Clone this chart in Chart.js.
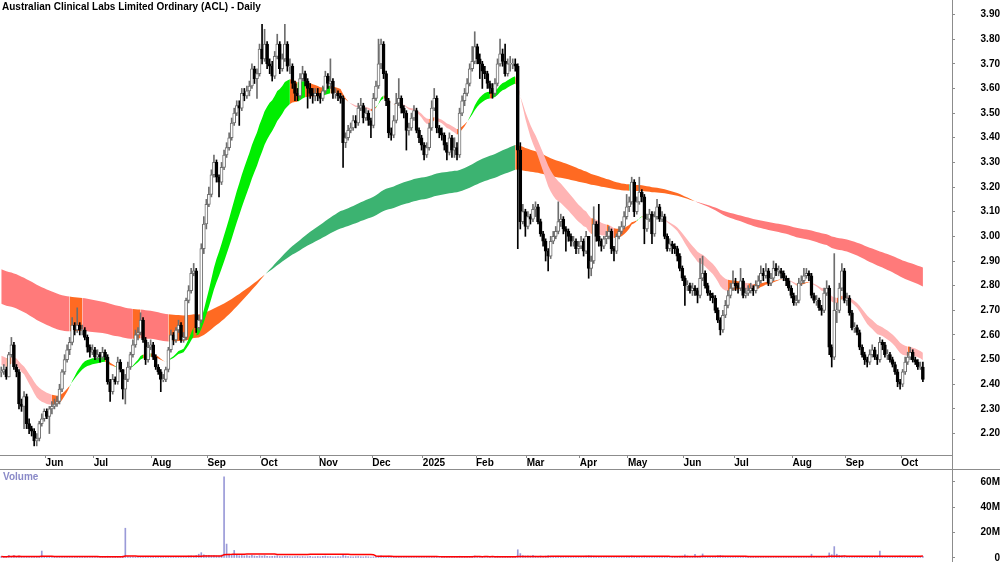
<!DOCTYPE html>
<html>
<head>
<meta charset="utf-8">
<script src="https://cdn.jsdelivr.net/npm/chart.js@4.4.1/dist/chart.umd.min.js"></script>
<style>
  body { margin: 0; background: #fff; width: 1000px; height: 562px; overflow: hidden; position: relative; font-family: "Liberation Sans", Arial, sans-serif; }
  canvas { position: absolute; left: 0; }
  #price { top: 0; }
  #volume { top: 470px; }
  .label { position: absolute; font-weight: bold; font-size: 10px; white-space: nowrap; }
  #title { left: 2px; top: 1px; color: #000; }
  #volTitle { left: 3px; top: 471px; color: #8a8ac8; }
</style>
</head>
<body>
<canvas id="price" width="1000" height="470"></canvas>
<canvas id="volume" width="1000" height="92"></canvas>
<div id="title" class="label">Australian Clinical Labs Limited Ordinary (ACL) - Daily</div>
<div id="volTitle" class="label">Volume</div>
<script>
// daily bars, 8 May 2024 .. 13 Oct 2025 (ASX trading days)
const closePrices = [
  2.45,2.46,2.43,2.52,2.56,2.47,2.45,2.32,2.31,2.35,
  2.24,2.22,2.21,2.17,2.18,2.24,2.26,2.29,2.27,2.30,
  2.31,2.32,2.33,2.38,2.45,2.50,2.54,2.57,2.64,2.62,
  2.64,2.62,2.62,2.59,2.55,2.53,2.54,2.51,2.52,2.51,
  2.53,2.51,2.41,2.37,2.42,2.41,2.49,2.46,2.38,2.42,
  2.47,2.52,2.56,2.60,2.61,2.66,2.58,2.50,2.55,2.56,
  2.51,2.47,2.45,2.42,2.42,2.46,2.54,2.60,2.58,2.62,
  2.64,2.58,2.59,2.74,2.78,2.85,2.86,2.63,2.66,2.95,
  3.05,3.13,3.17,3.25,3.30,3.24,3.22,3.28,3.33,3.36,
  3.40,3.46,3.50,3.53,3.52,3.58,3.57,3.59,3.61,3.68,
  3.64,3.66,3.76,3.72,3.78,3.70,3.69,3.65,3.73,3.78,
  3.68,3.72,3.78,3.69,3.69,3.62,3.58,3.57,3.64,3.66,
  3.63,3.60,3.58,3.57,3.58,3.57,3.56,3.59,3.65,3.62,
  3.63,3.58,3.58,3.57,3.56,3.38,3.40,3.43,3.44,3.47,
  3.46,3.52,3.53,3.48,3.50,3.47,3.45,3.56,3.61,3.70,
  3.78,3.66,3.55,3.42,3.41,3.47,3.54,3.56,3.52,3.50,
  3.43,3.44,3.48,3.51,3.43,3.40,3.37,3.33,3.36,3.44,
  3.52,3.56,3.44,3.42,3.41,3.37,3.34,3.40,3.35,3.36,
  3.33,3.50,3.55,3.58,3.62,3.68,3.71,3.77,3.72,3.70,
  3.67,3.66,3.62,3.60,3.58,3.62,3.70,3.74,3.71,3.66,
  3.70,3.70,3.70,3.69,3.35,3.06,3.10,3.04,3.08,3.07,
  3.11,3.12,3.06,3.01,2.98,2.94,2.92,2.98,3.00,3.02,
  3.06,3.07,3.03,3.02,3.00,2.98,2.98,2.95,2.96,2.98,
  2.94,3.00,2.87,2.90,3.05,3.00,2.98,2.96,2.99,3.00,
  3.02,2.95,2.94,3.00,3.02,3.04,3.08,3.12,3.14,3.22,
  3.10,3.14,3.18,3.16,3.03,3.07,3.09,3.01,3.08,3.12,
  3.07,3.08,3.00,2.95,2.97,2.96,2.95,2.92,2.87,2.83,
  2.80,2.80,2.78,2.79,2.78,2.76,2.83,2.85,2.80,2.77,
  2.76,2.75,2.70,2.66,2.62,2.68,2.72,2.76,2.79,2.81,
  2.80,2.79,2.82,2.76,2.77,2.78,2.79,2.78,2.80,2.82,
  2.85,2.84,2.86,2.81,2.83,2.87,2.86,2.86,2.85,2.83,
  2.82,2.79,2.76,2.73,2.74,2.81,2.82,2.84,2.85,2.84,
  2.76,2.74,2.74,2.71,2.70,2.77,2.79,2.55,2.51,2.70,
  2.70,2.79,2.86,2.74,2.75,2.69,2.63,2.63,2.61,2.55,
  2.52,2.50,2.49,2.52,2.54,2.51,2.50,2.57,2.56,2.52,
  2.52,2.50,2.48,2.45,2.41,2.40,2.45,2.49,2.51,2.53,
  2.50,2.49,2.47,2.47,2.42
];
const highPrices = [
  2.47,2.48,2.47,2.53,2.59,2.57,2.48,2.46,2.34,2.37,
  2.36,2.26,2.23,2.22,2.20,2.25,2.28,2.30,2.30,2.31,
  2.33,2.34,2.35,2.40,2.46,2.52,2.56,2.59,2.67,2.65,
  2.71,2.65,2.64,2.63,2.60,2.56,2.56,2.55,2.54,2.53,
  2.55,2.54,2.52,2.42,2.44,2.43,2.51,2.50,2.46,2.44,
  2.49,2.53,2.58,2.62,2.63,2.69,2.67,2.59,2.57,2.58,
  2.57,2.52,2.48,2.46,2.44,2.47,2.55,2.62,2.61,2.63,
  2.66,2.65,2.61,2.75,2.80,2.87,2.89,2.87,2.68,2.97,
  3.08,3.15,3.20,3.27,3.33,3.31,3.25,3.30,3.35,3.38,
  3.42,3.48,3.52,3.55,3.55,3.60,3.60,3.61,3.63,3.70,
  3.69,3.68,3.78,3.86,3.84,3.79,3.72,3.71,3.75,3.82,
  3.79,3.74,3.86,3.79,3.72,3.70,3.63,3.60,3.66,3.69,
  3.67,3.64,3.62,3.60,3.60,3.60,3.58,3.61,3.67,3.66,
  3.72,3.64,3.60,3.59,3.58,3.57,3.42,3.45,3.46,3.49,
  3.49,3.54,3.56,3.54,3.52,3.51,3.48,3.58,3.63,3.80,
  3.80,3.79,3.67,3.56,3.44,3.49,3.58,3.64,3.57,3.53,
  3.51,3.46,3.50,3.53,3.52,3.44,3.41,3.38,3.38,3.46,
  3.55,3.60,3.57,3.45,3.44,3.42,3.38,3.42,3.41,3.40,
  3.38,3.52,3.57,3.60,3.64,3.70,3.77,3.83,3.78,3.74,
  3.71,3.69,3.67,3.63,3.62,3.64,3.72,3.80,3.76,3.78,
  3.72,3.73,3.72,3.72,3.70,3.38,3.13,3.11,3.10,3.09,
  3.13,3.14,3.13,3.07,3.02,2.99,2.95,3.00,3.02,3.04,
  3.14,3.09,3.08,3.04,3.03,3.01,3.00,2.99,2.98,3.00,
  2.99,3.02,3.00,2.92,3.12,3.06,3.13,2.99,3.00,3.02,
  3.04,3.03,2.96,3.01,3.04,3.06,3.10,3.17,3.16,3.24,
  3.23,3.16,3.24,3.19,3.17,3.09,3.11,3.10,3.10,3.15,
  3.13,3.10,3.09,3.01,2.99,2.98,2.97,2.96,2.93,2.88,
  2.84,2.82,2.81,2.81,2.80,2.79,2.91,2.92,2.86,2.81,
  2.78,2.77,2.76,2.71,2.67,2.70,2.74,2.78,2.81,2.86,
  2.83,2.81,2.87,2.83,2.79,2.80,2.81,2.80,2.82,2.84,
  2.88,2.87,2.89,2.87,2.85,2.90,2.89,2.88,2.87,2.86,
  2.84,2.83,2.80,2.77,2.76,2.83,2.84,2.87,2.87,2.86,
  2.85,2.77,2.76,2.75,2.72,2.79,2.82,2.80,2.56,2.93,
  2.73,2.81,2.89,2.87,2.77,2.76,2.70,2.65,2.64,2.62,
  2.56,2.53,2.51,2.54,2.56,2.55,2.52,2.59,2.58,2.57,
  2.54,2.53,2.51,2.49,2.46,2.42,2.46,2.51,2.53,2.55,
  2.54,2.51,2.50,2.49,2.49
];
const lowPrices = [
  2.43,2.44,2.42,2.43,2.51,2.46,2.43,2.30,2.29,2.22,
  2.22,2.20,2.19,2.15,2.15,2.17,2.23,2.25,2.26,2.20,
  2.28,2.30,2.31,2.32,2.37,2.44,2.49,2.52,2.56,2.60,
  2.61,2.60,2.60,2.58,2.53,2.51,2.52,2.50,2.50,2.49,
  2.50,2.50,2.40,2.33,2.36,2.40,2.40,2.45,2.34,2.32,
  2.41,2.46,2.51,2.55,2.58,2.60,2.57,2.48,2.49,2.54,
  2.50,2.46,2.44,2.37,2.41,2.41,2.45,2.53,2.56,2.57,
  2.61,2.57,2.57,2.58,2.73,2.77,2.84,2.61,2.62,2.65,
  2.93,3.03,3.12,3.16,3.24,3.22,3.16,3.21,3.27,3.32,
  3.35,3.39,3.45,3.49,3.45,3.51,3.55,3.56,3.57,3.60,
  3.62,3.56,3.65,3.70,3.71,3.68,3.66,3.63,3.64,3.72,
  3.66,3.67,3.71,3.67,3.66,3.60,3.55,3.55,3.56,3.63,
  3.61,3.52,3.56,3.54,3.55,3.55,3.54,3.55,3.58,3.60,
  3.60,3.56,3.56,3.55,3.54,3.28,3.36,3.39,3.42,3.43,
  3.44,3.45,3.51,3.46,3.47,3.45,3.40,3.44,3.55,3.60,
  3.68,3.64,3.53,3.40,3.39,3.40,3.46,3.53,3.50,3.48,
  3.35,3.41,3.43,3.47,3.42,3.38,3.35,3.31,3.32,3.35,
  3.43,3.51,3.42,3.40,3.39,3.35,3.31,3.33,3.32,3.32,
  3.31,3.32,3.49,3.53,3.57,3.61,3.67,3.70,3.70,3.64,
  3.60,3.64,3.60,3.58,3.56,3.57,3.61,3.69,3.69,3.65,
  3.65,3.67,3.68,3.67,2.95,3.03,3.05,3.00,3.03,3.05,
  3.06,3.08,3.05,3.00,2.96,2.90,2.86,2.91,2.97,2.99,
  3.01,3.04,3.01,2.94,2.98,2.96,2.96,2.93,2.93,2.95,
  2.92,2.93,2.83,2.84,2.89,2.98,2.96,2.94,2.95,2.97,
  2.99,2.93,2.90,2.93,2.99,3.01,3.03,3.07,3.10,3.13,
  3.08,3.09,3.13,3.14,2.97,3.02,3.06,2.97,3.00,3.07,
  3.06,3.06,2.99,2.94,2.94,2.93,2.93,2.90,2.86,2.82,
  2.72,2.78,2.77,2.76,2.76,2.73,2.75,2.82,2.79,2.76,
  2.74,2.73,2.69,2.65,2.60,2.61,2.67,2.71,2.75,2.78,
  2.78,2.77,2.78,2.75,2.75,2.76,2.77,2.76,2.77,2.79,
  2.81,2.82,2.83,2.80,2.80,2.82,2.84,2.84,2.83,2.82,
  2.80,2.78,2.75,2.72,2.72,2.73,2.80,2.81,2.83,2.82,
  2.75,2.73,2.72,2.70,2.68,2.69,2.76,2.52,2.47,2.50,
  2.65,2.69,2.78,2.73,2.72,2.68,2.62,2.61,2.60,2.54,
  2.51,2.48,2.47,2.48,2.51,2.50,2.48,2.49,2.54,2.51,
  2.50,2.49,2.47,2.44,2.39,2.38,2.39,2.44,2.48,2.50,
  2.49,2.48,2.46,2.46,2.41
];
// volume in millions of shares
const volumes = [
  1.2,0.9,0.8,2.1,1.1,2.0,0.7,1.5,1.0,1.4,0.9,0.8,0.7,1.2,1.0,0.9,5.5,1.1,
  0.9,0.7,0.8,0.6,1.0,0.9,1.3,1.1,0.8,0.9,1.2,0.8,0.7,0.9,0.8,0.6,0.7,0.8,0.9,
  0.8,0.7,0.6,0.9,0.8,1.4,1.1,0.9,0.7,1.0,0.8,1.6,23.5,1.2,0.9,1.0,0.8,1.1,0.9,1.0,1.2,0.9,0.8,
  0.9,0.8,0.7,1.0,0.9,0.8,1.1,1.3,0.9,1.0,1.2,0.9,1.0,1.4,1.6,1.8,1.5,2.0,3.0,4.2,2.5,2.0,
  2.2,1.8,2.0,1.6,1.5,2.4,64,11,3.0,2.5,6.0,2.2,1.8,2.0,1.7,1.9,1.5,2.1,1.6,1.4,1.8,
  1.6,1.9,1.4,1.2,1.3,1.5,1.7,1.2,1.1,1.4,1.3,1.2,1.0,1.1,1.3,0.9,1.2,1.0,1.1,1.3,0.9,1.0,1.2,
  1.0,1.3,1.5,1.1,1.2,0.9,1.0,1.1,1.0,2.8,1.6,1.2,1.0,0.9,1.1,1.2,1.0,0.9,1.1,1.0,0.8,
  0.9,1.1,1.4,1.8,1.3,1.2,1.5,1.0,0.9,1.1,1.0,0.8,0.9,1.2,0.8,0.9,1.0,0.7,0.6,0.8,
  0.7,0.8,0.9,1.0,1.1,0.9,0.8,1.0,0.9,1.1,0.8,0.9,1.0,0.8,1.4,1.2,1.1,1.3,1.2,1.4,1.6,
  1.3,1.1,1.0,1.2,0.9,1.0,1.1,1.0,1.4,1.3,1.1,1.0,1.2,1.1,1.0,1.3,6.5,3.5,2.0,1.6,
  1.8,1.5,2.2,1.4,1.3,1.6,1.2,1.5,2.0,1.3,1.1,1.2,1.4,1.0,1.1,1.3,1.0,0.9,1.2,1.0,1.1,
  1.3,1.1,1.5,1.8,1.6,1.4,1.2,1.0,0.9,1.1,1.0,0.9,1.0,1.2,1.1,1.0,1.3,1.2,1.4,
  1.2,1.6,1.4,1.1,1.3,1.0,1.5,1.1,1.0,1.2,1.0,0.9,1.1,1.0,1.2,1.3,1.0,0.9,1.1,1.2,1.4,1.5,
  2.5,1.6,1.4,1.2,2.8,1.3,1.6,3.2,1.4,1.1,1.2,1.0,1.3,1.8,2.0,1.5,1.2,1.1,1.0,1.2,
  1.1,1.0,1.2,0.9,1.0,1.1,0.9,1.0,0.8,0.9,1.0,1.1,0.9,1.2,1.0,0.9,1.1,1.0,0.8,0.9,1.0,1.1,1.0,
  0.9,1.0,1.1,0.9,1.2,1.0,1.1,3.0,1.0,1.2,1.1,1.3,1.4,1.2,4.0,2.6,9.0,3.0,2.0,1.8,1.5,
  1.3,1.2,1.4,1.1,1.0,1.2,1.3,1.1,1.0,0.9,1.1,1.0,1.2,5.5,1.4,1.1,1.0,0.9,1.2,1.0,1.3,1.5,
  1.2,1.1,1.0,1.3,0.9,1.0,1.1,0.9,1.4
];
// first trading day of each month (bar index) and its label
const monthStarts = [18, 37, 60, 82, 103, 126, 147, 167, 188, 208, 229, 248, 270, 290, 313, 334, 356];
const monthNames = ['Jun', 'Jul', 'Aug', 'Sep', 'Oct', 'Nov', 'Dec', '2025', 'Feb', 'Mar', 'Apr', 'May', 'Jun', 'Jul', 'Aug', 'Sep', 'Oct'];
const priceTicks = [2.2, 2.3, 2.4, 2.5, 2.6, 2.7, 2.8, 2.9, 3.0, 3.1, 3.2, 3.3, 3.4, 3.5, 3.6, 3.7, 3.8, 3.9];
const volumeTicks = [0, 20, 40, 60];
// ribbon averages as they stand at the first bar
const longSeed = { fast: 2.73, slow: 2.87 };
const shortSeed = { fast: 2.48, slow: 2.52 };

const font = { family: '"Liberation Sans", Arial, sans-serif', size: 10, weight: 'bold', lineHeight: 1 };
const axisGrey = '#8c8c8c';

function ema(values, period, seed) {
    const k = 2 / (period + 1);
    let prev = seed;
    return values.map(v => (prev = prev + k * (v - prev)));
}

function sma(values, n) {
    return values.map((v, i) => {
        const from = Math.max(0, i - n + 1);
        const part = values.slice(from, i + 1);
        return part.reduce((a, b) => a + b, 0) / part.length;
    });
}

function ribbonColors(fast, slow, up, down, mixed) {
    return fast.map((f, i) => {
        const rising = i > 0 && f > fast[i - 1];
        if (f >= slow[i]) return rising ? up : mixed;
        return rising ? mixed : down;
    });
}

const idx = closePrices.map((_, i) => i);
const openPrices = closePrices.map((c, i) => (i === 0 ? c : closePrices[i - 1]));
const isUp = idx.map(i => closePrices[i] >= openPrices[i]);

const bodies = idx.map(i => {
    let lo = Math.min(openPrices[i], closePrices[i]);
    let hi = Math.max(openPrices[i], closePrices[i]);
    if (hi - lo < 0.004) {
        const m = (hi + lo) / 2;
        lo = m - 0.002;
        hi = m + 0.002;
    }
    return { x: i, y: [lo, hi] };
});
const wicks = idx.map(i => ({ x: i, y: [lowPrices[i], highPrices[i]] }));

const longFast = ema(closePrices, 150, longSeed.fast);
const longSlow = ema(closePrices, 220, longSeed.slow);
const shortFast = ema(closePrices, 20, shortSeed.fast);
const shortSlow = ema(closePrices, 30, shortSeed.slow);
const orange = '#ff6a22';
const longColors = ribbonColors(longFast, longSlow, '#3cb371', '#ff7a7a', orange);
const shortColors = ribbonColors(shortFast, shortSlow, '#00ee00', '#ffb4b4', orange);
const volumeAverage = sma(volumes, 60);

const toPoints = arr => arr.map((y, x) => ({ x, y }));

function ribbon(slow, fast, colors, order) {
    return [
        {
            type: 'line', data: toPoints(slow), order,
            borderColor: 'rgba(0,0,0,0)', borderWidth: 1, pointRadius: 0,
            fill: '+1', backgroundColor: colors[0],
            segment: { backgroundColor: ctx => colors[ctx.p1DataIndex] }
        },
        {
            type: 'line', data: toPoints(fast), order,
            borderColor: 'rgba(0,0,0,0)', borderWidth: 1, pointRadius: 0, fill: false
        }
    ];
}

// scales add their label padding to the plot edges; the reference has none
function noEdgePadding(s) {
    s.paddingTop = 0;
    s.paddingBottom = 0;
    s.paddingLeft = 0;
    s.paddingRight = 0;
}

const frameLines = {
    id: 'frameLines',
    afterDraw(chart) {
        const ctx = chart.ctx;
        const x = Math.round(chart.chartArea.right) + 0.5;
        ctx.save();
        ctx.strokeStyle = axisGrey;
        ctx.lineWidth = 1;
        ctx.beginPath();
        ctx.moveTo(0, 469.5);
        ctx.lineTo(1000, 469.5);
        ctx.moveTo(x, chart.chartArea.bottom);
        ctx.lineTo(x, 470);
        ctx.stroke();
        ctx.restore();
    }
};

const rightAxis = (min, max, tickValues, label) => ({
    position: 'right', min, max, bounds: 'data',
    grid: { drawOnChartArea: false, tickLength: 3, color: axisGrey },
    border: { display: true, color: axisGrey },
    ticks: { crossAlign: 'far', padding: 22, color: '#000', font, callback: label },
    afterBuildTicks: s => { s.ticks = tickValues.map(v => ({ value: v })); },
    afterFit: s => { s.width = 48; noEdgePadding(s); }
});

new Chart(document.getElementById('price'), {
    type: 'bar',
    data: {
        datasets: [
            {
                data: bodies, order: 0, grouped: false, barThickness: 3, borderWidth: 1, borderSkipped: false,
                backgroundColor: ctx => (isUp[ctx.dataIndex] ? '#ffffff' : '#000000'),
                borderColor: ctx => (isUp[ctx.dataIndex] ? '#6e6e6e' : '#000000')
            },
            {
                data: wicks, order: 1, grouped: false, barThickness: 1, borderWidth: 0,
                backgroundColor: ctx => (isUp[ctx.dataIndex] ? '#6e6e6e' : '#000000')
            },
            ...ribbon(shortSlow, shortFast, shortColors, 5),
            ...ribbon(longSlow, longFast, longColors, 10)
        ]
    },
    options: {
        responsive: false,
        animation: false,
        events: [],
        layout: { padding: 0, autoPadding: false },
        plugins: { legend: { display: false }, tooltip: { enabled: false } },
        scales: {
            x: {
                type: 'linear', min: -0.5, max: 375.5, position: 'bottom', bounds: 'data', offset: false,
                grid: { drawOnChartArea: false, tickLength: 3, color: axisGrey, offset: false },
                border: { display: true, color: axisGrey },
                ticks: {
                    autoSkip: false, maxRotation: 0, align: 'start', padding: 0, color: '#000', font,
                    callback: (v, i) => monthNames[i]
                },
                afterBuildTicks: s => { s.ticks = monthStarts.map(m => ({ value: m - 0.5 })); },
                afterFit: s => { s.height = 15; noEdgePadding(s); }
            },
            y: rightAxis(2.113, 3.9588, priceTicks, v => v.toFixed(2))
        }
    },
    plugins: [frameLines]
});

new Chart(document.getElementById('volume'), {
    type: 'bar',
    data: {
        datasets: [
            {
                type: 'line', data: toPoints(volumeAverage), order: 0,
                borderColor: '#ff0000', borderWidth: 1.5, pointRadius: 0, fill: false
            },
            {
                data: toPoints(volumes), order: 1, grouped: false, barThickness: 1,
                backgroundColor: '#9a9ad8'
            }
        ]
    },
    options: {
        responsive: false,
        animation: false,
        events: [],
        layout: { padding: 0, autoPadding: false },
        plugins: { legend: { display: false }, tooltip: { enabled: false } },
        scales: {
            x: { type: 'linear', min: -0.5, max: 375.5, offset: false, display: false },
            y: rightAxis(-3.16, 69.47, volumeTicks, v => (v === 0 ? '0' : v + 'M'))
        }
    }
});
</script>
</body>
</html>
